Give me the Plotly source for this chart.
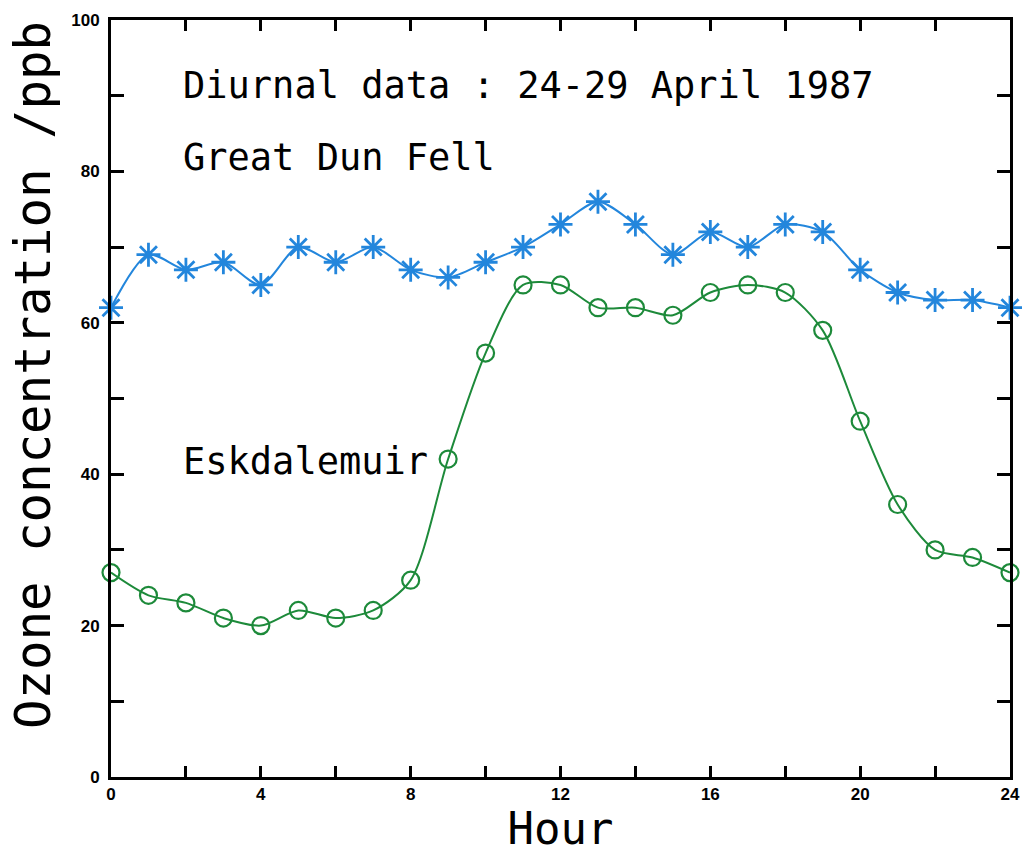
import plotly.graph_objects as go

hours = list(range(0, 25))
great_dun_fell = [62, 69, 67, 68, 65, 70, 68, 70, 67, 66, 68, 70, 73, 76, 73, 69, 72, 70, 73, 72, 67, 64, 63, 63, 62]
eskdalemuir = [27, 24, 23, 21, 20, 22, 21, 22, 26, 42, 56, 65, 65, 62, 62, 61, 64, 65, 64, 59, 47, 36, 30, 29, 27]

x_tickvals = list(range(0, 25, 2))
x_ticktext = [str(v) if v % 4 == 0 else "" for v in x_tickvals]
y_tickvals = list(range(0, 101, 10))
y_ticktext = [str(v) if v % 20 == 0 else "" for v in y_tickvals]

fig = go.Figure()
fig.add_trace(go.Scatter(
    x=hours, y=great_dun_fell, mode="lines+markers",
    line=dict(color="#2386dc", width=2, shape="spline", smoothing=0.8),
    marker=dict(symbol="asterisk-open", size=20, line=dict(color="#1a6fd6", width=2.8)),
    cliponaxis=False, showlegend=False))
fig.add_trace(go.Scatter(
    x=hours, y=eskdalemuir, mode="lines+markers",
    line=dict(color="#1d8a3a", width=2, shape="spline", smoothing=0.8),
    marker=dict(symbol="circle-open", size=17, line=dict(color="#17803a", width=2.2)),
    cliponaxis=False, showlegend=False))

txtfont = dict(family="DejaVu Sans Mono", size=37, color="black")
fig.add_annotation(x=0, y=0.913, xref="paper", yref="paper", xshift=70, text="Diurnal data : 24-29 April 1987",
                   showarrow=False, xanchor="left", yanchor="middle", font=txtfont)
fig.add_annotation(x=0, y=0.818, xref="paper", yref="paper", xshift=70, text="Great Dun Fell",
                   showarrow=False, xanchor="left", yanchor="middle", font=txtfont)
fig.add_annotation(x=0, y=0.417, xref="paper", yref="paper", xshift=70, text="Eskdalemuir",
                   showarrow=False, xanchor="left", yanchor="middle", font=txtfont)
fig.add_annotation(x=0, y=0.531, xref="paper", yref="paper", xshift=-78, text="Ozone concentration /ppb",
                   textangle=-90, showarrow=False, xanchor="center", yanchor="middle",
                   font=dict(family="DejaVu Sans Mono", size=49, color="black"))

axis_common = dict(showgrid=False, zeroline=False, showline=True, linecolor="black", linewidth=3,
                   ticks="inside", tickcolor="black", tickwidth=2.5, mirror="ticks", automargin=False,
                   tickfont=dict(family="Liberation Sans", size=17, color="black", weight="bold"))
fig.update_xaxes(range=[0, 24], tickvals=x_tickvals, ticktext=x_ticktext, ticklen=11,
                 title=dict(text="Hour", font=dict(family="DejaVu Sans Mono", size=44, color="black"), standoff=10),
                 **axis_common)
fig.update_yaxes(range=[0, 100], tickvals=y_tickvals, ticktext=y_ticktext, ticklen=13, ticklabelstandoff=5,
                 **axis_common)
fig.update_layout(width=1022, height=854, margin=dict(l=111, r=12, t=20, b=77),
                  plot_bgcolor="white", paper_bgcolor="white")
fig.write_html("out.html")
